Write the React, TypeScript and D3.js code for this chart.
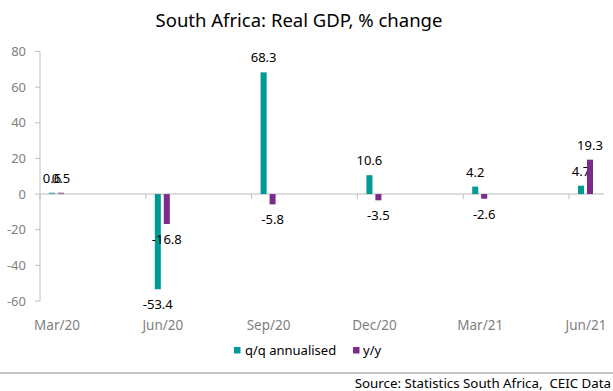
import * as d3 from 'd3';

const categories = ['Mar/20', 'Jun/20', 'Sep/20', 'Dec/20', 'Mar/21', 'Jun/21'];
const qoqValues = [0.6, -53.4, 68.3, 10.6, 4.2, 4.7];
const yoyValues = [0.5, -16.8, -5.8, -3.5, -2.6, 19.3];
const seriesNames = ['q/q annualised', 'y/y'];
const yTicks = [80, 60, 40, 20, 0, -20, -40, -60];

const COLORS = ['#009a96', '#7b2b8b'];
const FONT = '"Noto Sans", "Open Sans", sans-serif';

const App = () => {
  const width = 613;
  const height = 391;

  // y scale: -60..80
  const yScale = d3.scaleLinear().domain([-60, 80]).range([301, 51.5]);
  // category centres
  const xScale = d3.scalePoint().domain(categories).range([57, 586]);
  // series offset inside a category
  const inner = d3.scaleBand().domain(seriesNames).range([-8, 7]).paddingInner(0.33);

  const y0 = yScale(0);
  const axisX = 40;
  const series = [qoqValues, yoyValues];

  const bars = series.flatMap((vals, si) =>
    vals.map((v, i) => {
      const cx = xScale(categories[i]) + inner(seriesNames[si]);
      const bw = inner.bandwidth();
      const h = Math.max(Math.abs(yScale(v) - y0), 1.5);
      const top = v >= 0 ? y0 - h : y0;
      const labelY = v >= 0 ? yScale(v) - 10 : yScale(v) + 20;
      return (
        <g key={`${si}-${i}`}>
          <rect x={cx} y={top} width={bw} height={h} fill={COLORS[si]} fillOpacity={h < 2 ? 0.6 : 1} />
          <text
            x={cx + bw / 2}
            y={labelY}
            textAnchor="middle"
            fontSize={13}
            fill="#000"
          >
            {v.toFixed(1)}
          </text>
        </g>
      );
    })
  );

  return (
    <svg
      width={width}
      height={height}
      style={{ position: 'absolute', left: 0, top: 0, background: '#fff' }}
      fontFamily={FONT}
    >
      <text x={299} y={27} textAnchor="middle" fontSize={18.5} fill="#000">
        South Africa: Real GDP, % change
      </text>

      {/* y axis */}
      <line x1={axisX} x2={axisX} y1={yScale(80)} y2={yScale(-60)} stroke="#bfbfbf" />
      {yTicks.map((t) => (
        <g key={t}>
          <line x1={axisX - 5} x2={axisX} y1={yScale(t)} y2={yScale(t)} stroke="#bfbfbf" />
          <text x={26} y={yScale(t) + 4.5} textAnchor="end" fontSize={13} fill="#7f7f7f">
            {t}
          </text>
        </g>
      ))}

      {/* x axis at zero */}
      <line x1={axisX} x2={604} y1={y0} y2={y0} stroke="#d0d0d0" strokeWidth={1.5} />
      {categories.map((c) => (
        <g key={c}>
          <line x1={xScale(c) - 17} x2={xScale(c) - 17} y1={y0} y2={y0 + 5} stroke="#bfbfbf" />
          <text x={xScale(c)} y={330} textAnchor="middle" fontSize={13.5} fill="#7f7f7f">
            {c}
          </text>
        </g>
      ))}

      {bars}

      {/* legend */}
      <rect x={234} y={347} width={6.5} height={6.5} fill={COLORS[0]} />
      <text x={245} y={355} fontSize={13} fill="#000">{seriesNames[0]}</text>
      <rect x={353} y={347} width={6.5} height={6.5} fill={COLORS[1]} />
      <text x={363} y={355} fontSize={13} fill="#000">{seriesNames[1]}</text>

      <line x1={0} x2={width} y1={373} y2={373} stroke="#b0b0b0" strokeWidth={1.5} />
      <text x={611} y={388} textAnchor="end" fontSize={13.3} fill="#000">
        Source: Statistics South Africa,{'\u00a0 '}CEIC Data
      </text>
    </svg>
  );
};

export default App;
